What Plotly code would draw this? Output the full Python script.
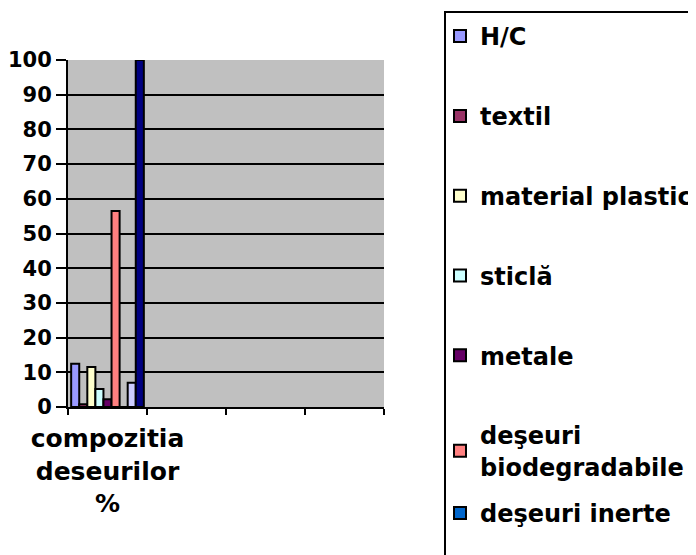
import plotly.graph_objects as go

# ---- data ----
categories = ["compozitia<br>deseurilor<br>%", "c2", "c3", "c4"]
tick_labels = ["compozitia<br>deseurilor<br>%", "", "", ""]
series_names = ["H/C", "textil", "material plastic", "sticlă", "metale",
                "deşeuri<br>biodegradabile", "deşeuri inerte", "seria 8", "seria 9"]
series_values = [12.5, 0.8, 11.5, 5.2, 2.2, 56.5, 0.0, 7.0, 100.0]
series_colors = ["#9999FF", "#993366", "#FFFFCC", "#CCFFFF", "#660066",
                 "#FF8080", "#0066CC", "#CCCCFF", "#000080"]
y_ticks = [0, 10, 20, 30, 40, 50, 60, 70, 80, 90, 100]

# page body has an 8px margin, so the figure is laid out 8px in from the window
W, H = 688, 547
ML, MR, MT, MB = 60, 312, 52, 148

FONT = "DejaVu Sans"

fig = go.Figure()
for i, (name, val, col) in enumerate(zip(series_names, series_values, series_colors)):
    fig.add_trace(go.Bar(
        x=[categories[0]], y=[val], name=name,
        marker=dict(color=col, line=dict(color="black", width=2)),
        legendgroup=f"g{i}",
        legend="legend" if i < 6 else "legend2",
        showlegend=i < 7,
    ))

legend_common = dict(
    xref="container", yref="container", xanchor="left", yanchor="top",
    bgcolor="rgba(0,0,0,0)", borderwidth=0, maxheight=700,
    font=dict(family=FONT, size=24, color="black", weight="bold"),
)

fig.update_layout(
    width=W, height=H,
    margin=dict(l=ML, r=MR, t=MT, b=MB, pad=0, autoexpand=False),
    paper_bgcolor="white",
    plot_bgcolor="#C0C0C0",
    barmode="group", bargap=0.08, bargroupgap=0,
    legend=dict(x=432 / W, y=1 - 6 / H, tracegroupgap=45.6, **legend_common),
    legend2=dict(x=432 / W, y=1 - 483 / H, **legend_common),
    xaxis=dict(
        type="category", categoryorder="array", categoryarray=categories,
        tickvals=categories, ticktext=tick_labels,
        range=[-0.5, 3.5], tickson="boundaries", tickangle=0,
        automargin=False, ticklabelstandoff=8,
        showline=True, linecolor="black", linewidth=2,
        ticks="outside", ticklen=6, tickwidth=2, tickcolor="black",
        showgrid=False,
        tickfont=dict(family=FONT, size=25, color="black", weight="bold"),
    ),
    yaxis=dict(
        range=[0, 100], tickvals=y_ticks, automargin=False,
        showline=True, linecolor="black", linewidth=2,
        ticks="outside", ticklen=10, tickwidth=2, tickcolor="black",
        showgrid=True, gridcolor="black", gridwidth=2,
        zeroline=False,
        tickfont=dict(family=FONT, size=21, color="black", weight="bold"),
    ),
    shapes=[dict(
        type="rect", xref="paper", yref="paper",
        x0=(437 - ML) / (W - ML - MR), x1=3.0,
        y0=-1.0, y1=1 + (MT - 4) / (H - MT - MB),
        line=dict(color="black", width=2), fillcolor="rgba(0,0,0,0)",
        layer="below",
    )],
    showlegend=True,
)

fig.write_html("out.html")
